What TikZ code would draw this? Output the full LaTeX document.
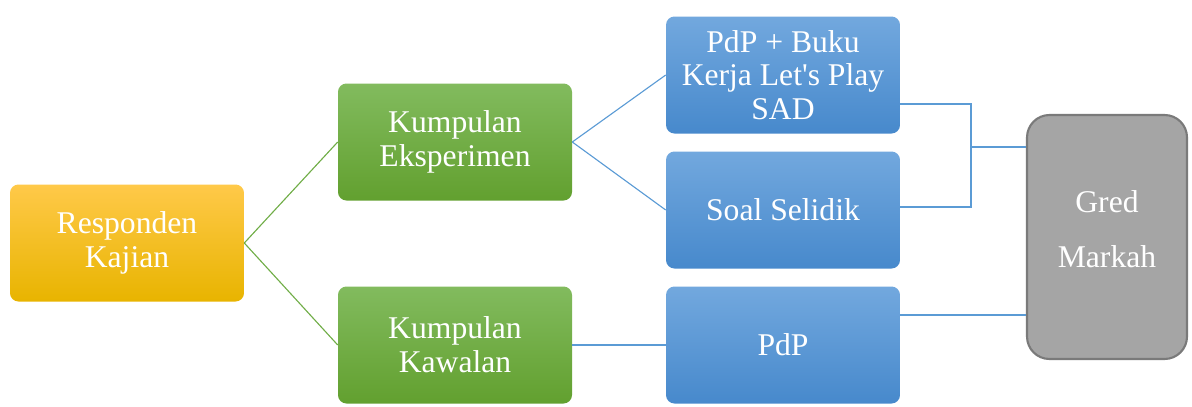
\documentclass[tikz,border=0pt]{standalone}
\usepackage{fontspec}
\setmainfont{Liberation Serif}
\usetikzlibrary{positioning,calc}

\definecolor{yelTop}{HTML}{FFC949}
\definecolor{yelBot}{HTML}{E8B400}
\definecolor{grnTop}{HTML}{82BB5E}
\definecolor{grnBot}{HTML}{62A02F}
\definecolor{bluTop}{HTML}{72A8DE}
\definecolor{bluBot}{HTML}{4789CC}
\definecolor{grnLine}{HTML}{70AD47}
\definecolor{bluLine}{HTML}{5B9BD5}
\definecolor{gryFill}{HTML}{A5A5A5}
\definecolor{gryDraw}{HTML}{7A7A7A}

\begin{document}
\begin{tikzpicture}[
    box/.style={rectangle, rounded corners=6pt, minimum width=5.85cm, minimum height=2.925cm, align=center, text=white, font=\fontsize{22.5}{24}\selectfont},
    yelbox/.style={box, top color=yelTop, bottom color=yelBot},
    grnbox/.style={box, top color=grnTop, bottom color=grnBot},
    blubox/.style={box, top color=bluTop, bottom color=bluBot},
    grybox/.style={box, fill=gryFill, draw=gryDraw, line width=1.5pt, rounded corners=16pt, minimum width=4cm, minimum height=6.1cm, font=\fontsize{22.5}{39}\selectfont},
    gline/.style={draw=grnLine, line width=0.8pt},
    bline/.style={draw=bluLine, line width=0.8pt}
]
\useasboundingbox (0,0) rectangle (29.8,10.15);

% Respondent
\node[yelbox] (resp) at (3.175, 4.075) {Responden\\Kajian};

% Groups
\node[grnbox] (eksp) at (11.375, 6.6) {Kumpulan\\Eksperimen};
\node[grnbox] (kawal) at (11.375, 1.525) {Kumpulan\\Kawalan};

% Treatments
\node[blubox] (buku) at (19.575, 8.275) {PdP + Buku\\Kerja Let\textquotesingle s Play\\SAD};
\node[blubox] (soal) at (19.575, 4.9) {Soal Selidik};
\node[blubox] (pdp) at (19.575, 1.525) {PdP};

% Result
\node[grybox, text depth=0.4cm] (gred) at (27.675, 4.225) {Gred\\Markah};

% Connectors
\draw[gline] (resp.east) -- (eksp.west);
\draw[gline] (resp.east) -- (kawal.west);
\draw[bline] (eksp.east) -- (buku.west);
\draw[bline] (eksp.east) -- (soal.west);
\draw[bline] (kawal.east) -- (pdp.west);

% Bracket to result
\coordinate (bkt) at (24.275, 6.475);
\draw[bline] ([yshift=-7.25mm]buku.east) -| (bkt) |- ([yshift=0.75mm]soal.east);
\draw[bline] (bkt) -- (bkt -| gred.west);
\draw[bline] ([yshift=7.5mm]pdp.east) -- ([yshift=7.5mm]pdp.east -| gred.west);

\end{tikzpicture}
\end{document}
